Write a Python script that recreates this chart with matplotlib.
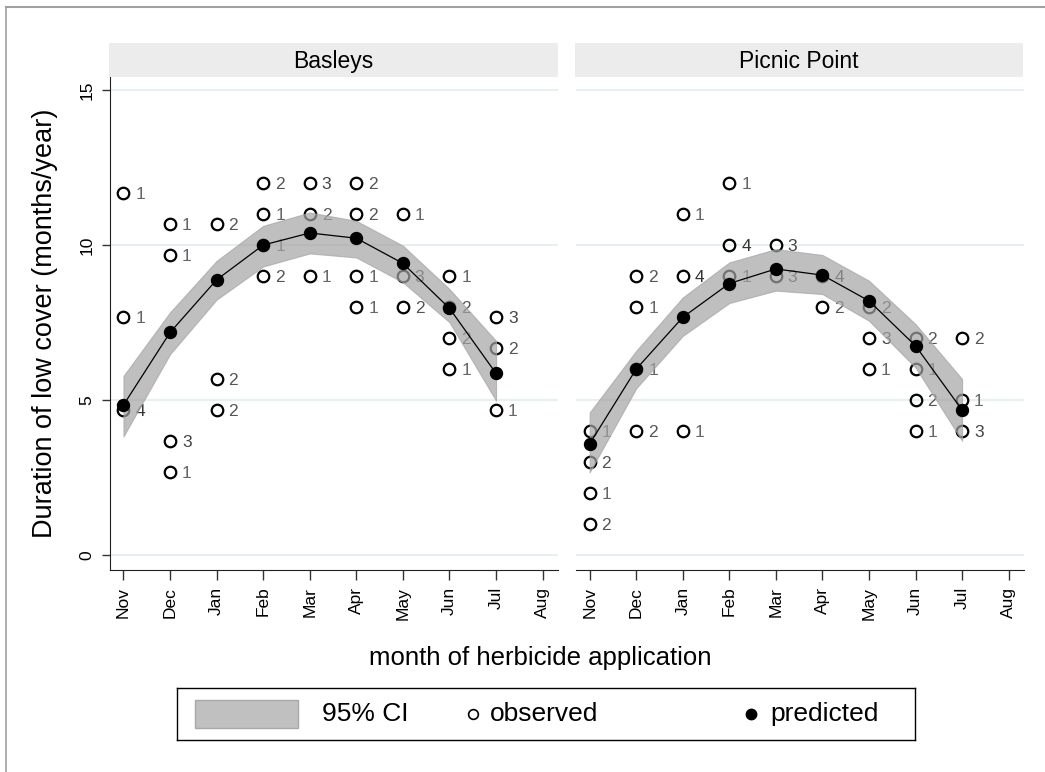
import matplotlib
matplotlib.use('Agg')
import matplotlib.pyplot as plt
import numpy as np
from matplotlib.lines import Line2D
from matplotlib.patches import Rectangle

plt.rcParams['font.family'] = ['Liberation Sans', 'DejaVu Sans']

months = ['Nov', 'Dec', 'Jan', 'Feb', 'Mar', 'Apr', 'May', 'Jun', 'Jul', 'Aug']
month_pos = np.arange(1, len(months) + 1)
pred_month = [1, 2, 3, 4, 5, 6, 7, 8, 9]

# Basleys - observed (month index, value, count label)
bas_obs_month = [1, 1, 1, 2, 2, 2, 2, 3, 3, 3, 4, 4, 4, 4, 5, 5, 5,
                 6, 6, 6, 6, 7, 7, 7, 8, 8, 8, 8, 9, 9, 9]
bas_obs_val = [11.67, 7.67, 4.67, 10.67, 9.67, 3.67, 2.67, 10.67, 5.67, 4.67,
               12, 11, 10, 9, 12, 11, 9, 12, 11, 9, 8, 11, 9, 8,
               9, 8, 7, 6, 7.67, 6.67, 4.67]
bas_obs_n = [1, 1, 4, 1, 1, 3, 1, 2, 2, 2, 2, 1, 1, 2, 3, 2, 1,
             2, 2, 1, 1, 1, 3, 2, 1, 2, 2, 1, 3, 2, 1]
bas_pred = [4.84, 7.18, 8.88, 10.0, 10.39, 10.22, 9.41, 7.96, 5.86]
bas_lo = [3.83, 6.48, 8.24, 9.31, 9.73, 9.60, 8.80, 7.51, 4.98]
bas_hi = [5.78, 7.83, 9.49, 10.62, 11.05, 10.78, 9.98, 8.58, 6.91]

# Picnic Point
pic_obs_month = [1, 1, 1, 1, 2, 2, 2, 2, 3, 3, 3, 4, 4, 4, 5, 5, 6, 6,
                 7, 7, 7, 8, 8, 8, 8, 9, 9, 9]
pic_obs_val = [4, 3, 2, 1, 9, 8, 6, 4, 11, 9, 4, 12, 10, 9, 10, 9, 9, 8,
               8, 7, 6, 7, 6, 5, 4, 7, 5, 4]
pic_obs_n = [1, 2, 1, 2, 2, 1, 1, 2, 1, 4, 1, 1, 4, 1, 3, 3, 4, 2,
             2, 3, 1, 2, 1, 2, 1, 2, 1, 3]
pic_pred = [3.59, 6.0, 7.67, 8.76, 9.23, 9.03, 8.2, 6.75, 4.68]
pic_lo = [2.67, 5.38, 7.07, 8.13, 8.53, 8.42, 7.56, 6.05, 3.69]
pic_hi = [4.60, 6.59, 8.31, 9.44, 9.87, 9.68, 8.85, 7.45, 5.68]

panel_titles = ['Basleys', 'Picnic Point']

W, H = 1045, 772
fig = plt.figure(figsize=(W / 100, H / 100), dpi=100)


def fx(px):
    return px / W


def fy(py):
    return 1 - py / H


ax1 = fig.add_axes([fx(109.5), fy(570), fx(558 - 109.5), (570 - 77) / H])
ax2 = fig.add_axes([fx(575.7), fy(570), fx(1024 - 575.7), (570 - 77) / H])

label_colors = {1: '#666666', 2: '#555555', 3: '#444444', 4: '#333333'}


def draw_panel(ax, om, ov, on, pred, lo, hi, show_y):
    ax.plot(om, ov, linestyle='none', marker='o', mfc='none', mec='black',
            ms=8.3, mew=1.6, zorder=3)
    for m, v, n in zip(om, ov, on):
        ax.annotate(str(n), (m, v), xytext=(8.6, -0.8), textcoords='offset points',
                    ha='left', va='center', fontsize=12.5,
                    color=label_colors[n], zorder=3)
    ax.fill_between(pred_month, lo, hi, facecolor='#a4a4a4', edgecolor='#a4a4a4',
                    alpha=0.7, lw=0.8, zorder=4)
    ax.plot(pred_month, pred, color='black', lw=0.9, zorder=5)
    ax.plot(pred_month, pred, linestyle='none', marker='o', color='black',
            ms=8.6, zorder=6)

    ax.set_xlim(0.70, 10.33)
    ax.set_ylim(-0.48, 15.42)
    ax.set_xticks(month_pos)
    ax.set_xticklabels(months, rotation=90)
    ax.set_yticks([0, 5, 10, 15])
    ax.yaxis.grid(True, color='#e6eff1', lw=1.5)
    ax.set_axisbelow(True)
    for s in ['top', 'right']:
        ax.spines[s].set_visible(False)
    ax.spines['bottom'].set_color('#222222')
    ax.spines['left'].set_color('#222222')
    ax.tick_params(axis='x', direction='out', length=7, width=1, color='#333333',
                   labelsize=12.5, pad=5)
    if show_y:
        ax.tick_params(axis='y', direction='out', length=6, width=1,
                       color='#333333', labelsize=12.5, pad=5)
        plt.setp(ax.get_yticklabels(), rotation=90, va='center')
    else:
        ax.spines['left'].set_visible(False)
        ax.tick_params(axis='y', left=False, labelleft=False)


draw_panel(ax1, bas_obs_month, bas_obs_val, bas_obs_n, bas_pred, bas_lo, bas_hi, True)
draw_panel(ax2, pic_obs_month, pic_obs_val, pic_obs_n, pic_pred, pic_lo, pic_hi, False)

# strip headers
for (x0, x1), title in zip([(109, 558), (575, 1023)], panel_titles):
    sax = fig.add_axes([fx(x0), fy(77), fx(x1 - x0), 34 / H])
    sax.set_facecolor('#ececec')
    sax.set_xticks([])
    sax.set_yticks([])
    for s in sax.spines.values():
        s.set_visible(False)
    sax.text(0.5, 0.45, title, ha='center', va='center', fontsize=16.5,
             transform=sax.transAxes)

fig.text(fx(45), fy(323.5), 'Duration of low cover (months/year)', rotation=90,
         ha='center', va='center', fontsize=19.5)
fig.text(fx(540), fy(658), 'month of herbicide application',
         ha='center', va='center', fontsize=18.5)

# legend
lax = fig.add_axes([fx(177), fy(740), fx(915 - 177), 52 / H])
lax.set_xlim(0, 1)
lax.set_ylim(0, 1)
lax.set_xticks([])
lax.set_yticks([])
for s in lax.spines.values():
    s.set_color('black')
    s.set_linewidth(1)
lax.add_patch(Rectangle((0.0244, 0.23), 0.1396, 0.54, facecolor='#c0c0c0',
                        edgecolor='#a8a8a8', lw=1))
lax.text(0.196, 0.5, '95% CI', ha='left', va='center', fontsize=19)
lax.plot([0.401], [0.5], marker='o', mfc='none', mec='black', ms=7, mew=1.2)
lax.text(0.424, 0.5, 'observed', ha='left', va='center', fontsize=19)
lax.plot([0.778], [0.5], marker='o', color='black', ms=7.5)
lax.text(0.8035, 0.5, 'predicted', ha='left', va='center', fontsize=19)

# outer frame (left and top)
fig.add_artist(Line2D([fx(6), fx(6)], [0, fy(7)], transform=fig.transFigure,
                      color='#a0a0a0', lw=1.2))
fig.add_artist(Line2D([fx(6), 1], [fy(7), fy(7)], transform=fig.transFigure,
                      color='#a0a0a0', lw=1.5))

fig.savefig('out.png', dpi=100)
